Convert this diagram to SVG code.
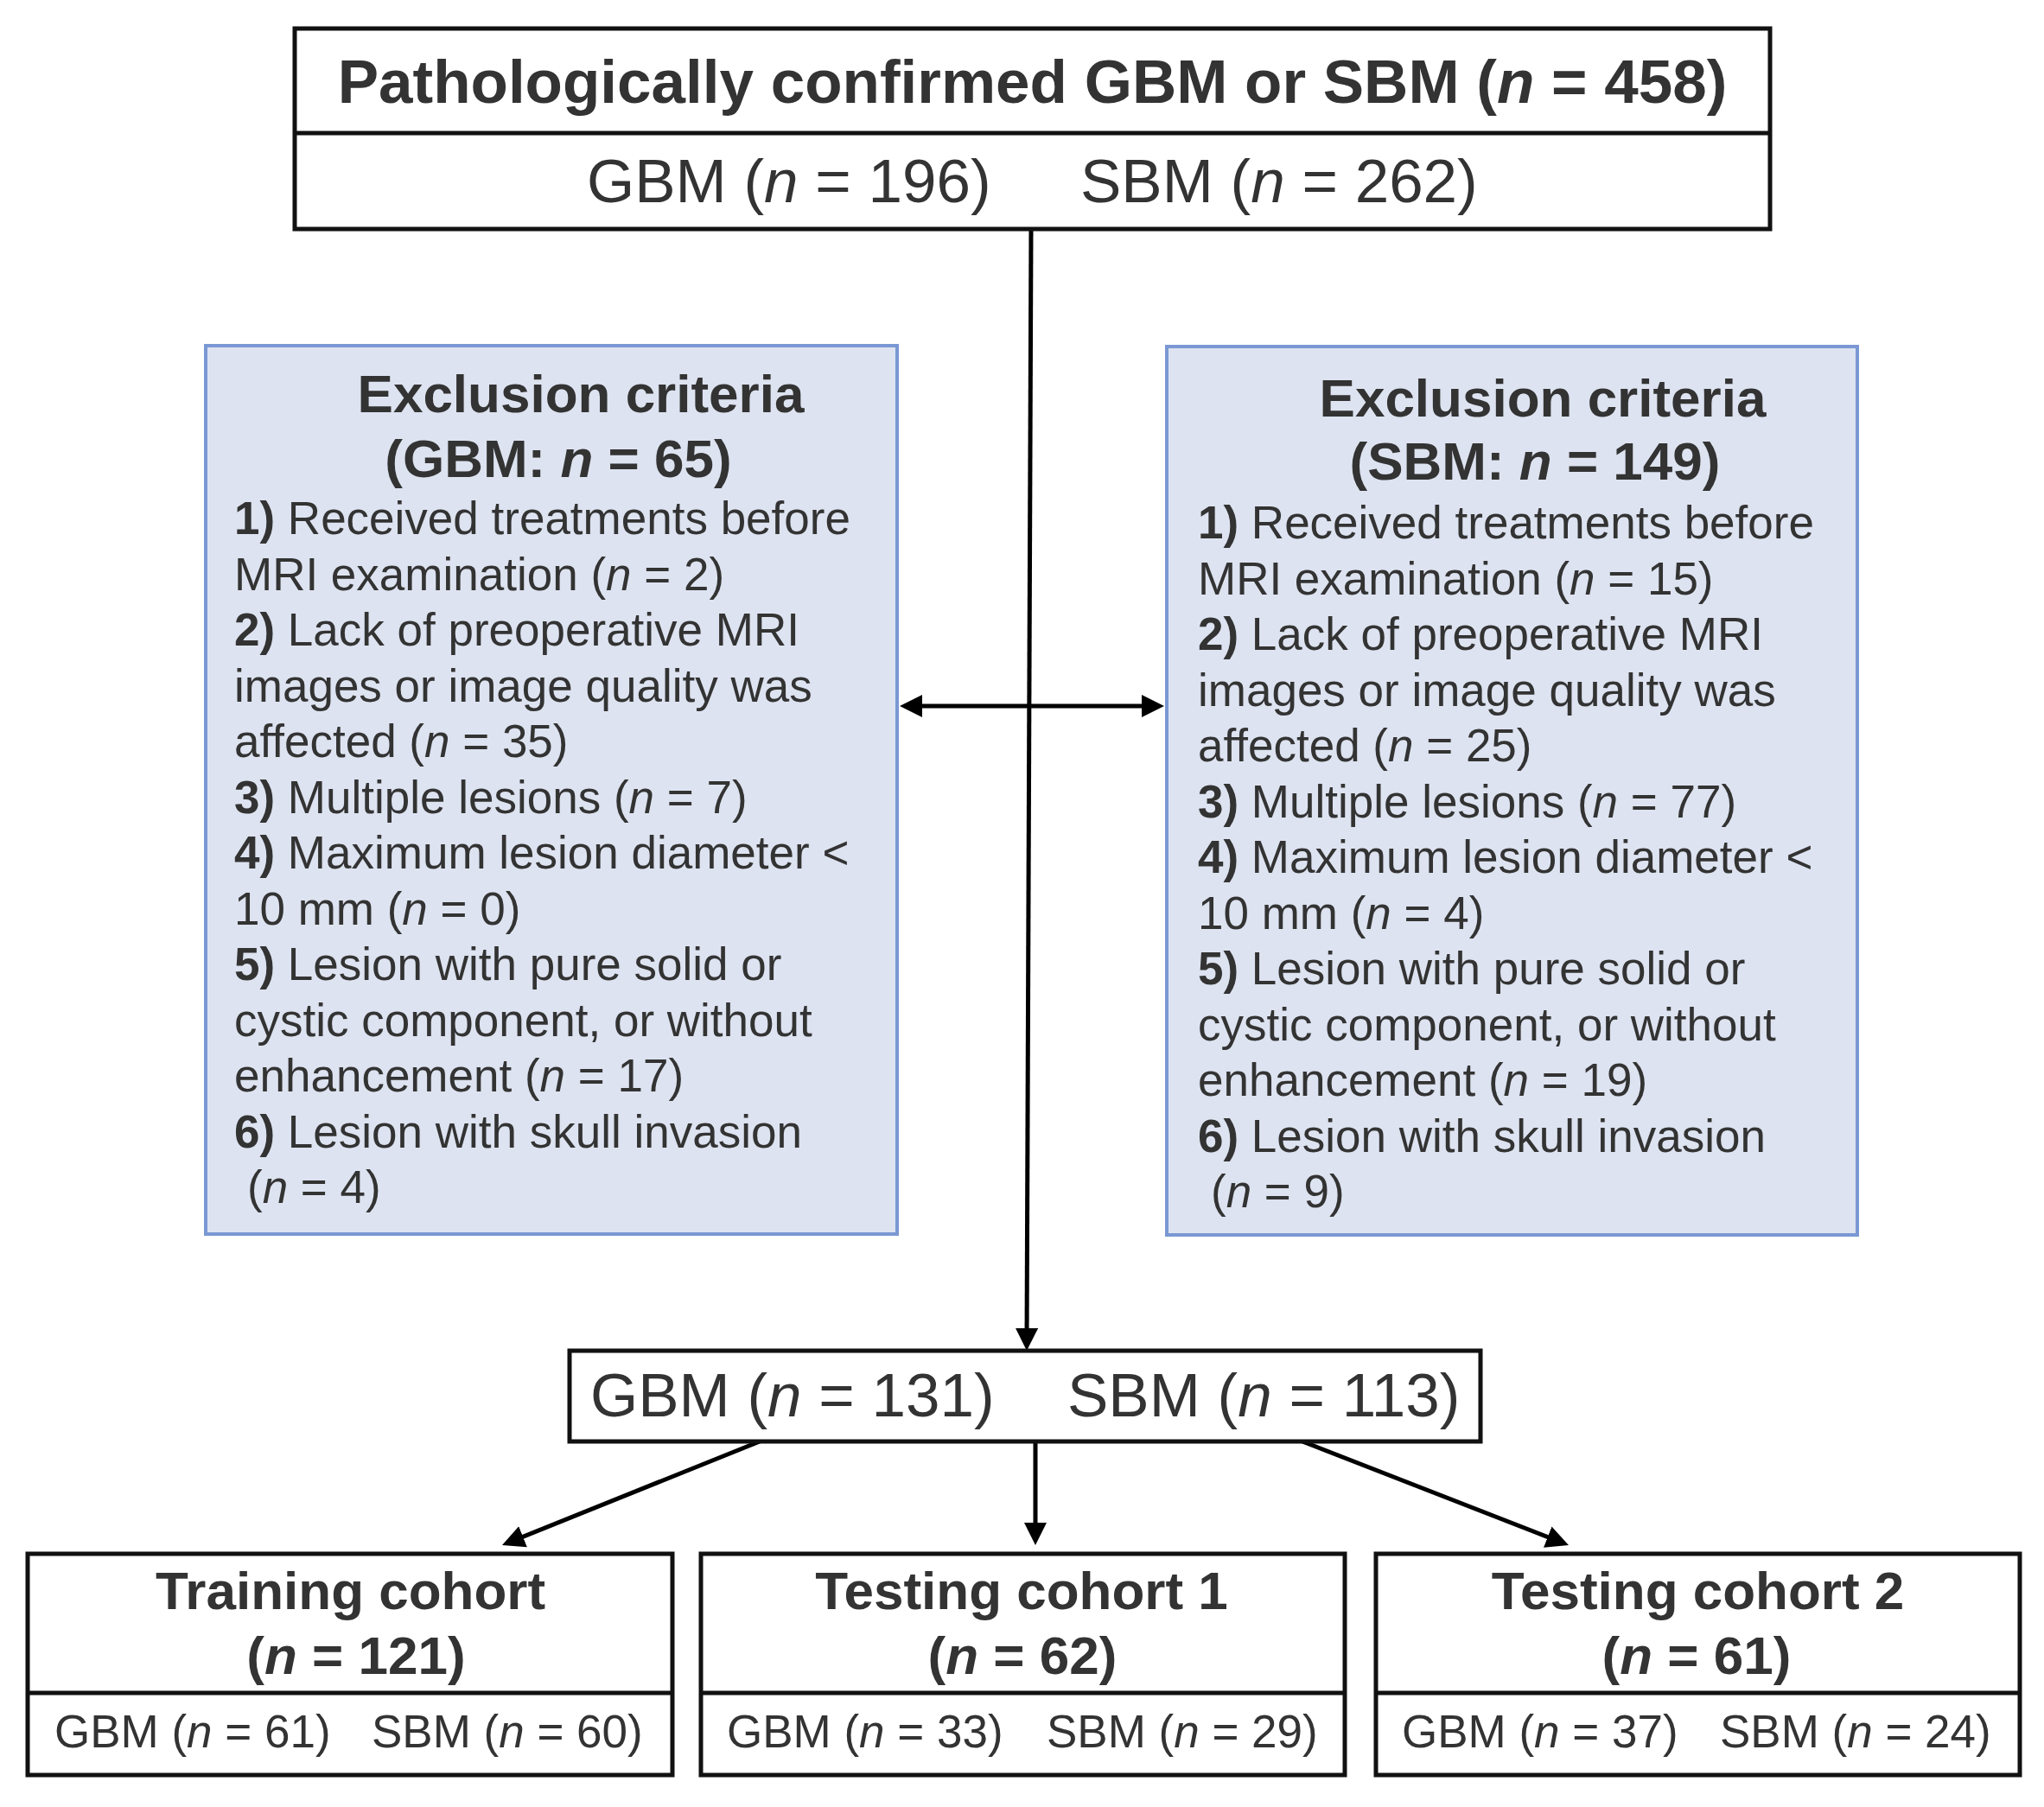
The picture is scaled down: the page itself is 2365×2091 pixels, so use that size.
<svg xmlns="http://www.w3.org/2000/svg" width="2365" height="2091" viewBox="0 0 2365 2091">
<defs>
<style>
text{font-family:"Liberation Sans",Arial,sans-serif;fill:#333333}
.b{font-weight:bold}
.i{font-style:italic}
.t1{font-size:71px}
.h{font-size:62px;font-weight:bold}
.body{font-size:53px}
.small{font-size:53px}
.box{fill:#ffffff;stroke:#111111;stroke-width:5}
.div{stroke:#111111;stroke-width:5}
.excl{fill:#dde3f0;stroke:#7a98d3;stroke-width:4}
.conn{stroke:#000000;stroke-width:5;fill:none}
</style>
<marker id="ah" markerUnits="userSpaceOnUse" markerWidth="26" markerHeight="26" viewBox="0 0 26 26" refX="18" refY="13" orient="auto-start-reverse">
<path d="M0,0 L26,13 L0,26 z" fill="#000000"/>
</marker>
</defs>
<rect width="2365" height="2091" fill="#ffffff"/>

<g id="connectors">
<line class="conn" x1="1193" y1="265" x2="1188" y2="1555" marker-end="url(#ah)"/>
<line class="conn" x1="1049" y1="817" x2="1339" y2="817" marker-start="url(#ah)" marker-end="url(#ah)"/>
<line class="conn" x1="879" y1="1668" x2="588.4" y2="1785" marker-end="url(#ah)"/>
<line class="conn" x1="1198" y1="1668" x2="1198" y2="1780" marker-end="url(#ah)"/>
<line class="conn" x1="1507" y1="1668" x2="1807.5" y2="1785.1" marker-end="url(#ah)"/>
</g>

<g id="node-total">
<rect class="box" x="341" y="33" width="1707" height="232"/>
<line class="div" x1="341" y1="154" x2="2048" y2="154"/>
<text class="t1 b" x="1194.5" y="119" text-anchor="middle">Pathologically confirmed GBM or SBM (<tspan class="i">n</tspan> = 458)</text>
<text class="t1" x="679" y="234">GBM (<tspan class="i">n</tspan> = 196)</text>
<text class="t1" x="1250" y="234">SBM (<tspan class="i">n</tspan> = 262)</text>
</g>

<g id="node-excl-gbm">
<rect class="excl" x="238" y="400" width="800" height="1028"/>
<text class="h" x="672" y="477" text-anchor="middle">Exclusion criteria</text>
<text class="h" x="646" y="552" text-anchor="middle">(GBM: <tspan class="i">n</tspan> = 65)</text>
<g class="body">
<text class="body" x="271" y="618"><tspan class="b">1)</tspan> Received treatments before</text>
<text class="body" x="271" y="682.5">MRI examination (<tspan class="i">n</tspan> = 2)</text>
<text class="body" x="271" y="747"><tspan class="b">2)</tspan> Lack of preoperative MRI</text>
<text class="body" x="271" y="811.5">images or image quality was</text>
<text class="body" x="271" y="876">affected (<tspan class="i">n</tspan> = 35)</text>
<text class="body" x="271" y="940.5"><tspan class="b">3)</tspan> Multiple lesions (<tspan class="i">n</tspan> = 7)</text>
<text class="body" x="271" y="1005"><tspan class="b">4)</tspan> Maximum lesion diameter &lt;</text>
<text class="body" x="271" y="1069.5">10 mm (<tspan class="i">n</tspan> = 0)</text>
<text class="body" x="271" y="1134"><tspan class="b">5)</tspan> Lesion with pure solid or</text>
<text class="body" x="271" y="1198.5">cystic component, or without</text>
<text class="body" x="271" y="1263">enhancement (<tspan class="i">n</tspan> = 17)</text>
<text class="body" x="271" y="1327.5"><tspan class="b">6)</tspan> Lesion with skull invasion</text>
<text class="body" x="286" y="1392">(<tspan class="i">n</tspan> = 4)</text>
</g>
</g>

<g id="node-excl-sbm">
<rect class="excl" x="1350" y="401" width="799" height="1028"/>
<text class="h" x="1785" y="482" text-anchor="middle">Exclusion criteria</text>
<text class="h" x="1776" y="555" text-anchor="middle">(SBM: <tspan class="i">n</tspan> = 149)</text>
<text class="body" x="1386" y="623"><tspan class="b">1)</tspan> Received treatments before</text>
<text class="body" x="1386" y="687.5">MRI examination (<tspan class="i">n</tspan> = 15)</text>
<text class="body" x="1386" y="752"><tspan class="b">2)</tspan> Lack of preoperative MRI</text>
<text class="body" x="1386" y="816.5">images or image quality was</text>
<text class="body" x="1386" y="881">affected (<tspan class="i">n</tspan> = 25)</text>
<text class="body" x="1386" y="945.5"><tspan class="b">3)</tspan> Multiple lesions (<tspan class="i">n</tspan> = 77)</text>
<text class="body" x="1386" y="1010"><tspan class="b">4)</tspan> Maximum lesion diameter &lt;</text>
<text class="body" x="1386" y="1074.5">10 mm (<tspan class="i">n</tspan> = 4)</text>
<text class="body" x="1386" y="1139"><tspan class="b">5)</tspan> Lesion with pure solid or</text>
<text class="body" x="1386" y="1203.5">cystic component, or without</text>
<text class="body" x="1386" y="1268">enhancement (<tspan class="i">n</tspan> = 19)</text>
<text class="body" x="1386" y="1332.5"><tspan class="b">6)</tspan> Lesion with skull invasion</text>
<text class="body" x="1401" y="1397">(<tspan class="i">n</tspan> = 9)</text>
</g>

<g id="node-included">
<rect class="box" x="659" y="1563" width="1054" height="105"/>
<text class="t1" x="683" y="1639">GBM (<tspan class="i">n</tspan> = 131)</text>
<text class="t1" x="1235" y="1639">SBM (<tspan class="i">n</tspan> = 113)</text>
</g>

<g id="node-training">
<rect class="box" x="32" y="1798" width="746" height="256"/>
<line class="div" x1="32" y1="1959" x2="778" y2="1959"/>
<text class="h" x="405.5" y="1862" text-anchor="middle">Training cohort</text>
<text class="h" x="412" y="1937" text-anchor="middle">(<tspan class="i">n</tspan> = 121)</text>
<text class="small" x="63" y="2022">GBM (<tspan class="i">n</tspan> = 61)</text>
<text class="small" x="430" y="2022">SBM (<tspan class="i">n</tspan> = 60)</text>
</g>

<g id="node-testing1">
<rect class="box" x="811" y="1798" width="745" height="256"/>
<line class="div" x1="811" y1="1959" x2="1556" y2="1959"/>
<text class="h" x="1182" y="1862" text-anchor="middle">Testing cohort 1</text>
<text class="h" x="1183" y="1937" text-anchor="middle">(<tspan class="i">n</tspan> = 62)</text>
<text class="small" x="841" y="2022">GBM (<tspan class="i">n</tspan> = 33)</text>
<text class="small" x="1211" y="2022">SBM (<tspan class="i">n</tspan> = 29)</text>
</g>

<g id="node-testing2">
<rect class="box" x="1592" y="1798" width="745" height="256"/>
<line class="div" x1="1592" y1="1959" x2="2337" y2="1959"/>
<text class="h" x="1964.5" y="1862" text-anchor="middle">Testing cohort 2</text>
<text class="h" x="1963" y="1937" text-anchor="middle">(<tspan class="i">n</tspan> = 61)</text>
<text class="small" x="1622" y="2022">GBM (<tspan class="i">n</tspan> = 37)</text>
<text class="small" x="1990" y="2022">SBM (<tspan class="i">n</tspan> = 24)</text>
</g>
</svg>
